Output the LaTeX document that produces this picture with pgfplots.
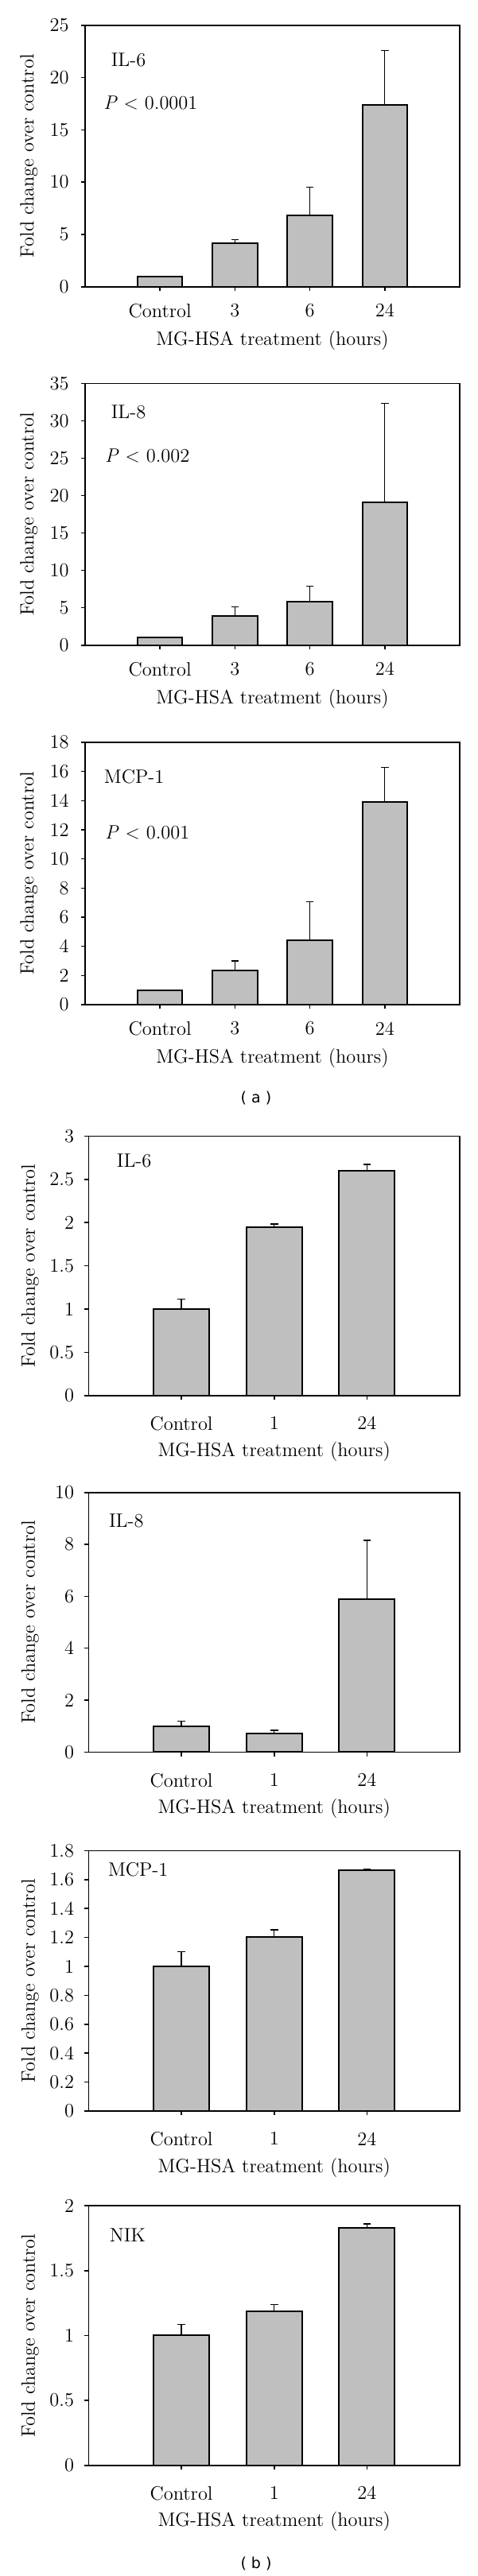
\documentclass[border=0pt]{standalone}
\usepackage{fontspec}
\usepackage{pgfplots}
\pgfplotsset{compat=1.18}
\newfontfamily\labfont{DejaVu Sans}

\tikzset{lab/.style={anchor=west, inner sep=0pt}}
\pgfplotsset{
  panel/.style={
    scale only axis, ybar, bar width=0.6, ymin=0,
    axis line style={line width=0.8pt},
    tick style={line width=0.8pt, black}, tick align=outside, major tick length=2.6pt,
    xtick pos=left, ytick pos=left,
    /pgf/number format/assume math mode=true,
    /pgf/number format/fixed,
    ylabel={Fold change over control},
    xlabel={MG-HSA treatment (hours)},
    every axis x label/.style={at={(axis description cs:0.5,0)}, anchor=center},
    anchor=south west,
    clip=false,
  },
  pa/.style={panel, width=235.5pt, xmin=-1, xmax=4, xtick={0,1,2,3}, xticklabels={Control,3,6,24},
    every axis y label/.style={at={(axis description cs:-0.150,0.5)}, rotate=90, anchor=center},
    xlabel style={yshift=-33.8pt},
    xticklabel style={yshift=-4pt}, yticklabel style={xshift=-3.4pt}},
  pb/.style={panel, width=233.25pt, xmin=-1, xmax=3, xtick={0,1,2}, xticklabels={Control,1,24},
    every axis y label/.style={at={(axis description cs:-0.1576,0.5)}, rotate=90, anchor=center},
    xlabel style={yshift=-35.5pt},
    xticklabel style={yshift=-6.5pt}, yticklabel style={xshift=-2.4pt}},
  bars/.style={fill=gray!50, draw=black, line width=1pt,
    error bars/.cd, y dir=plus, y explicit,
    error bar style={line width=0.7pt, black},
    error mark options={rotate=90, mark size=2.4pt, line width=0.7pt, black}},
}

\begin{document}
\fontsize{12.2}{14.6}\selectfont
\begin{tikzpicture}
\useasboundingbox (0,0) rectangle (300pt,-1620.5pt);

% ---------- (a) IL-6
\begin{axis}[pa, at={(53.5pt,-180.35pt)}, height=164.5pt, ymax=25, ytick={0,5,10,15,20,25}]
\addplot[bars] coordinates {(0,1.0) +- (0,0) (1,4.19) +- (0,0.30) (2,6.80) +- (0,2.72) (3,17.39) +- (0,5.2)};
\node[lab] at (axis cs:-0.656,21.7) {IL-6};
\node[lab] at (axis cs:-0.757,17.6) {\textit{P} ${<}$ 0.0001};
\end{axis}

% ---------- (a) IL-8
\begin{axis}[pa, at={(53.5pt,-405.85pt)}, height=164.7pt, ymax=35, ytick={0,5,10,15,20,25,30,35}]
\addplot[bars] coordinates {(0,1.0) +- (0,0) (1,3.9) +- (0,1.24) (2,5.77) +- (0,2.09) (3,19.13) +- (0,13.17)};
\node[lab] at (axis cs:-0.656,31.2) {IL-8};
\node[lab] at (axis cs:-0.737,25.3) {\textit{P} ${<}$ 0.002};
\end{axis}

% ---------- (a) MCP-1
\begin{axis}[pa, at={(53.5pt,-632pt)}, height=165pt, ymax=18, ytick={0,2,4,6,8,10,12,14,16,18}]
\addplot[bars] coordinates {(0,1.0) +- (0,0) (1,2.35) +- (0,0.65) (2,4.4) +- (0,2.67) (3,13.9) +- (0,2.37)};
\node[lab] at (axis cs:-0.75,15.67) {MCP-1};
\node[lab] at (axis cs:-0.737,11.8) {\textit{P} ${<}$ 0.001};
\end{axis}

\node[font=\labfont\fontsize{9.5}{11}\selectfont] at (161pt,-690.85pt) {( a )};

% ---------- (b) IL-6
\begin{axis}[pb, at={(55.75pt,-877.85pt)}, height=163.2pt, ymax=3, ytick={0,0.5,1,1.5,2,2.5,3}]
\addplot[bars] coordinates {(0,1.0) +- (0,0.115) (1,1.943) +- (0,0.04) (2,2.596) +- (0,0.076)};
\node[lab] at (axis cs:-0.70,2.71) {IL-6};
\end{axis}

% ---------- (b) IL-8
\begin{axis}[pb, at={(55.75pt,-1102.15pt)}, height=163.3pt, ymax=10, ytick={0,2,4,6,8,10}]
\addplot[bars] coordinates {(0,1.0) +- (0,0.18) (1,0.714) +- (0,0.123) (2,5.9) +- (0,2.26)};
\node[lab] at (axis cs:-0.784,8.9) {IL-8};
\end{axis}

% ---------- (b) MCP-1
\begin{axis}[pb, at={(55.75pt,-1328pt)}, height=163.85pt, ymax=1.8, ytick={0,0.2,0.4,0.6,0.8,1,1.2,1.4,1.6,1.8}]
\addplot[bars] coordinates {(0,1.0) +- (0,0.10) (1,1.203) +- (0,0.05) (2,1.666) +- (0,0.006)};
\node[lab] at (axis cs:-0.793,1.67) {MCP-1};
\end{axis}

% ---------- (b) NIK
\begin{axis}[pb, at={(55.75pt,-1550.85pt)}, height=163.35pt, ymax=2, ytick={0,0.5,1,1.5,2}]
\addplot[bars] coordinates {(0,1.0) +- (0,0.086) (1,1.188) +- (0,0.051) (2,1.829) +- (0,0.03)};
\node[lab] at (axis cs:-0.777,1.775) {NIK};
\end{axis}

\node[font=\labfont\fontsize{9.5}{11}\selectfont] at (161pt,-1612.5pt) {( b )};
\end{tikzpicture}
\end{document}
